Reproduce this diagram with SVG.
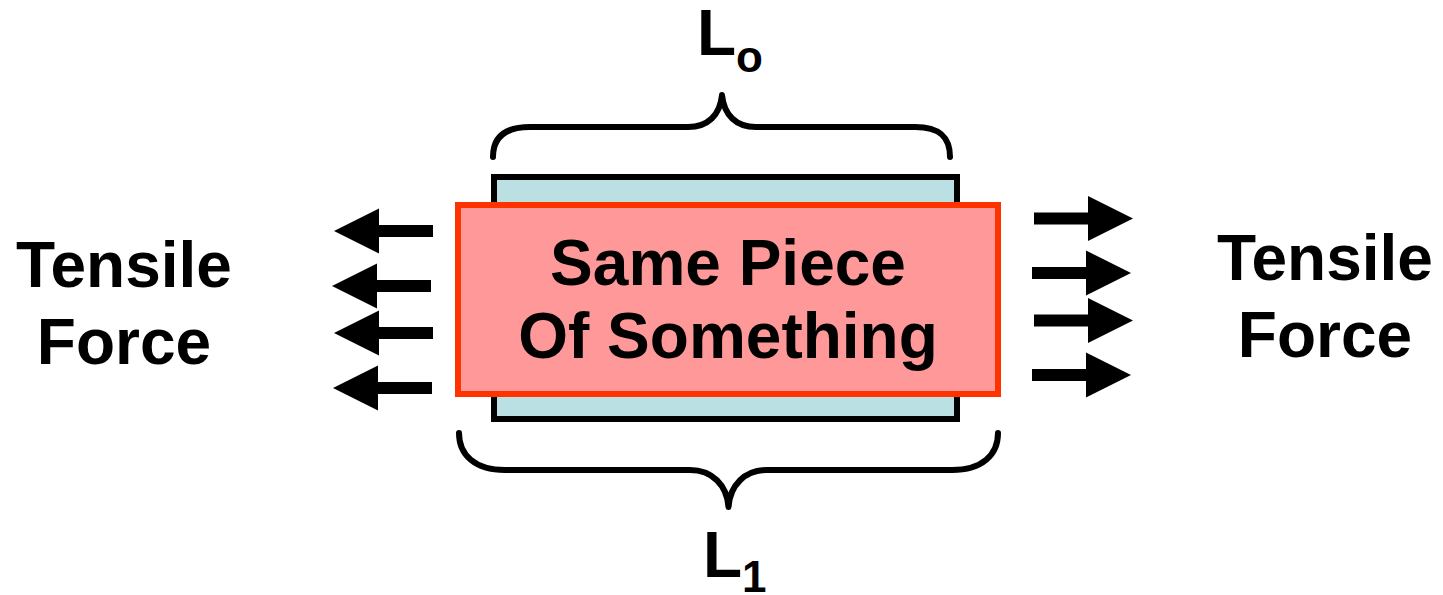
<svg xmlns="http://www.w3.org/2000/svg" xmlns:xlink="http://www.w3.org/1999/xlink" width="1443" height="595" viewBox="0 0 1443 595">
<style>
.t{font-family:"Liberation Sans",Arial,sans-serif;font-weight:bold;fill:#000;}
.big{font-size:64px;}
.brace{fill:none;stroke:#000;stroke-width:6;stroke-linecap:round;stroke-linejoin:round;}
.arr{fill:#000;}
</style>
<defs>
<path id="la" d="M99,-6 H45 V-22.5 L0,0 L45,22.5 V6 H99 Z"/>
<path id="ra" d="M-99,-6 H-45 V-22.5 L0,0 L-45,22.5 V6 H-99 Z"/>
</defs>
<rect width="1443" height="595" fill="#fff"/>
<g id="original-piece">
<rect x="494" y="177" width="463" height="242" fill="#bbe0e3" stroke="#000" stroke-width="6"/>
</g>
<g id="stretched-piece">
<rect x="458" y="205" width="540" height="189" fill="#ff9999" stroke="#ff3300" stroke-width="6"/>
<text class="t big" x="728" y="285" text-anchor="middle">Same Piece</text>
<text class="t big" x="728" y="358" text-anchor="middle">Of Something</text>
</g>
<g id="label-left">
<text class="t big" x="124" y="287" text-anchor="middle">Tensile</text>
<text class="t big" x="124" y="364" text-anchor="middle">Force</text>
</g>
<g id="label-right">
<text class="t big" x="1325" y="280" text-anchor="middle">Tensile</text>
<text class="t big" x="1325" y="357" text-anchor="middle">Force</text>
</g>
<g id="label-L0">
<text class="t big" x="697" y="55">L<tspan font-size="44" dy="17">o</tspan></text>
</g>
<g id="label-L1">
<text class="t big" x="703" y="577">L<tspan font-size="44" dy="15">1</tspan></text>
</g>
<g id="connectors">
<path class="brace" d="M493,157 C493,137 505,127 530,127 L688,127 C708,127 720,115 722,95 C724,115 736,127 756,127 L915,127 C940,127 950,137 950,157"/>
<path class="brace" d="M459,433 C459,455 475,470 505,470 L690,470 C712,470 727,485 728.5,507 C730,485 745,470 767,470 L952,470 C982,470 998,455 998,433"/>
<use class="arr" xlink:href="#la" x="334" y="231"/>
<use class="arr" xlink:href="#la" x="332" y="286"/>
<use class="arr" xlink:href="#la" x="334" y="333"/>
<use class="arr" xlink:href="#la" x="333" y="388"/>
<use class="arr" xlink:href="#ra" x="1133" y="218.5"/>
<use class="arr" xlink:href="#ra" x="1131" y="273"/>
<use class="arr" xlink:href="#ra" x="1133" y="320.5"/>
<use class="arr" xlink:href="#ra" x="1131" y="375"/>
</g>
</svg>
